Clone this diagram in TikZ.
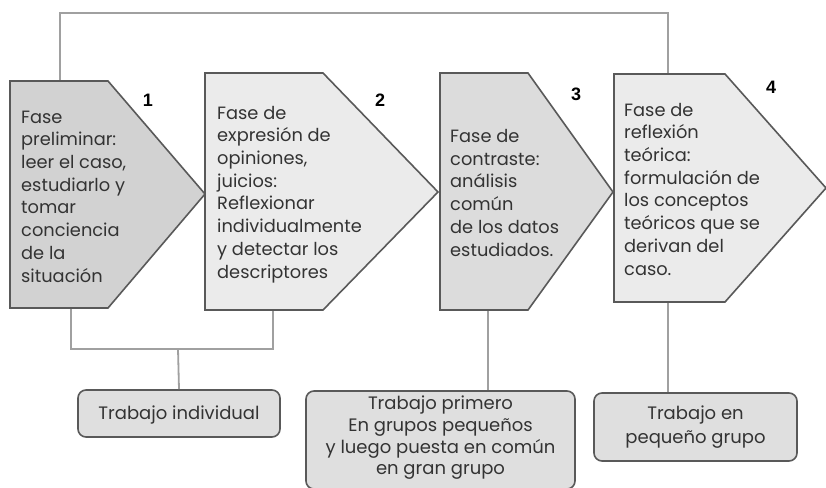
\documentclass[tikz,border=0pt]{standalone}
\usepackage{fontspec}
\setmainfont{Poppins}
\newfontfamily\numfont{Liberation Sans}
\definecolor{bordergray}{HTML}{595959}
\definecolor{linkgray}{HTML}{A0A0A0}
\definecolor{fillA}{HTML}{D2D2D2}
\definecolor{fillB}{HTML}{EBEBEB}
\definecolor{fillC}{HTML}{DCDCDC}
\definecolor{boxfill}{HTML}{DFDFDF}
\definecolor{textgray}{HTML}{333333}
\begin{document}
\begin{tikzpicture}[x=1pt,y=-1pt,
  phase/.style={draw=bordergray, line width=1.6pt, line join=miter},
  ptext/.style={anchor=base west, inner sep=0pt, align=left, text=textgray,
    font=\fontsize{17.8}{22.7}\selectfont},
  num/.style={inner sep=0pt, font=\numfont\bfseries\fontsize{18}{20}\selectfont},
  link/.style={draw=linkgray, line width=1.8pt},
  wbox/.style={draw=bordergray, line width=1.6pt, rounded corners=8pt, fill=boxfill,
    align=center, inner sep=0pt, text=textgray, font=\fontsize{18}{24}\selectfont},
  btext/.style={align=center, inner sep=0pt, text=textgray, font=\fontsize{18}{21.7}\selectfont}
]
\useasboundingbox (0,0) rectangle (826,487);
% connector end points
\coordinate (s1top) at (60,81);
\coordinate (s4top) at (668,74);
\coordinate (topline) at (0,13);
\coordinate (s1bot) at (71,308);
\coordinate (s2bot) at (273,310);
\coordinate (s3bot) at (488,310);
\coordinate (s4bot) at (668,302);
\coordinate (junc) at (178,349);
% boxes
\node[wbox, minimum width=202pt, minimum height=47pt, text depth=2pt] (b1) at (179,413.5) {Trabajo individual};
\node[wbox, minimum width=269pt, minimum height=98pt] (b2) at (440.5,440) {};
\node[btext, anchor=center] (b2t) at (440.5,438) {Trabajo primero\\En grupos pequeños\\y luego puesta en común\\en gran grupo};
\node[wbox, minimum width=203pt, minimum height=68pt] (b3) at (695.5,427) {Trabajo en\\pequeño grupo};
\draw[link] (s1top) -- (s1top |- topline) -| (s4top);
\draw[link] (s1bot) |- (junc) -| (s2bot);
\draw[link] (junc) -- (b1.north);
\draw[link] (s3bot) -- (s3bot |- b2.north);
\draw[link] (s4bot) -- (s4bot |- b3.north);
% phase shapes
\draw[phase, fill=fillA] (10,81) -- (108,81) -- (205,194) -- (108,308) -- (10,308) -- cycle;
\draw[phase, fill=fillB] (205,73) -- (323,73) -- (438,192) -- (323,310) -- (205,310) -- cycle;
\draw[phase, fill=fillC] (440,73) -- (528,73) -- (613,192) -- (528,310) -- (440,310) -- cycle;
\draw[phase, fill=fillB] (614,74) -- (725,74) -- (826,188) -- (725,302) -- (614,302) -- cycle;
% numbers
\node[num] (n1) at (148,100) {1};
\node[num] (n2) at (380,100) {2};
\node[num] (n3) at (576,94) {3};
\node[num] (n4) at (771,87) {4};
% phase texts (anchored at the baseline of the last line)
\node[ptext] (t1) at (21,282) {Fase\\preliminar:\\leer el caso,\\estudiarlo y\\tomar\\conciencia\\de la\\situación};
\node[ptext] (t2) at (217,278) {Fase de\\expresión de\\opiniones,\\juicios:\\Reflexionar\\individualmente\\y detectar los\\descriptores};
\node[ptext] (t3) at (450,256) {Fase de\\contraste:\\análisis\\común\\de los datos\\estudiados.};
\node[ptext] (t4) at (624,275) {Fase de\\reflexión\\teórica:\\formulación de\\los conceptos\\teóricos que se\\derivan del\\caso.};
\end{tikzpicture}
\end{document}
